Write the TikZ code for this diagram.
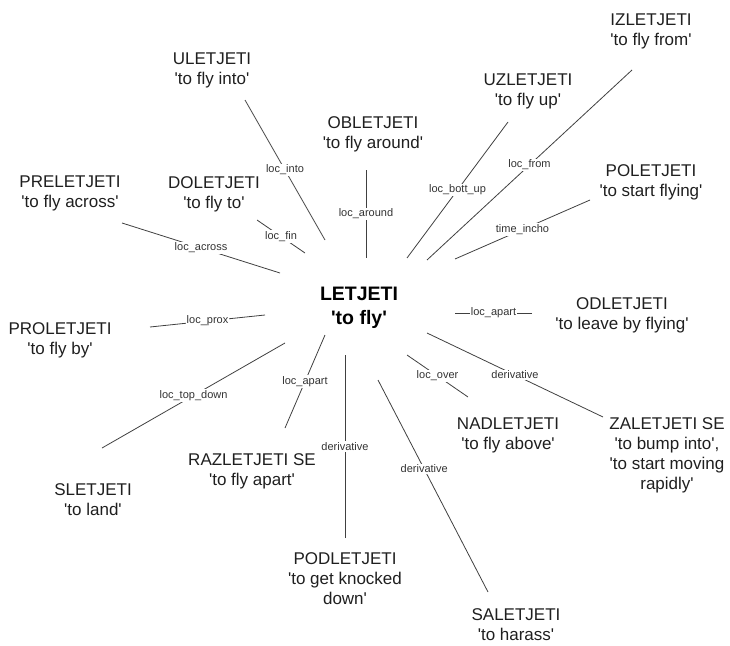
\documentclass[tikz,border=0pt]{standalone}
\usepackage{fontspec}
\setmainfont{Liberation Sans}[Ligatures=TeXOff]
\begin{document}
\begin{tikzpicture}[x=1pt,y=-1pt]
\tikzset{
  verb/.style={font=\fontsize{17}{20}\selectfont, align=center, inner sep=0pt, anchor=north, text=black!88},
  head/.style={font=\bfseries\fontsize{19.5}{24}\selectfont, align=center, inner sep=0pt, anchor=north},
  rel/.style={draw=black!75, line width=0.8pt},
  lab/.style={font=\fontsize{11}{12}\selectfont, fill=white, inner sep=1.2pt, text=black!80},
}
\useasboundingbox (0,0) rectangle (730,645);

% centre
\node[head] (letjeti) at (359,287) {LETJETI\\'to fly'};

% verbs
\node[verb] (izletjeti)   at (651,14)  {IZLETJETI\\'to fly from'};
\node[verb] (uletjeti)    at (212,53)  {ULETJETI\\'to fly into'};
\node[verb] (uzletjeti)   at (528,74)  {UZLETJETI\\'to fly up'};
\node[verb] (obletjeti)   at (373,116) {OBLETJETI\\'to fly around'};
\node[verb] (poletjeti)   at (651,164) {POLETJETI\\'to start flying'};
\node[verb] (preletjeti)  at (70,176)  {PRELETJETI\\'to fly across'};
\node[verb] (doletjeti)   at (214,176) {DOLETJETI\\'to fly to'};
\node[verb] (odletjeti)   at (622,297) {ODLETJETI\\'to leave by flying'};
\node[verb] (proletjeti)  at (60,322)  {PROLETJETI\\'to fly by'};
\node[verb] (nadletjeti)  at (508,418) {NADLETJETI\\'to fly above'};
\node[verb] (zaletjeti)   at (667,417) {ZALETJETI SE\\'to bump into',\\'to start moving\\rapidly'};
\node[verb] (razletjeti)  at (252,453) {RAZLETJETI SE\\'to fly apart'};
\node[verb] (sletjeti)    at (93,483)  {SLETJETI\\'to land'};
\node[verb] (podletjeti)  at (345,552) {PODLETJETI\\'to get knocked\\down'};
\node[verb] (saletjeti)   at (516,608) {SALETJETI\\'to harass'};

% connector end points
\coordinate (ul-a) at (245,100);  \coordinate (ul-b) at (325,240);
\coordinate (do-a) at (257,220);  \coordinate (do-b) at (305,253);
\coordinate (pr-a) at (122,223);  \coordinate (pr-b) at (280,273);
\coordinate (ob-a) at (366,170);  \coordinate (ob-b) at (366,258);
\coordinate (uz-a) at (508,122);  \coordinate (uz-b) at (407,258);
\coordinate (iz-a) at (632,70);   \coordinate (iz-b) at (427,260);
\coordinate (po-a) at (590,200);  \coordinate (po-b) at (455,259);
\coordinate (od-a) at (532,313);  \coordinate (od-b) at (455,313);
\coordinate (za-a) at (603,417);  \coordinate (za-b) at (427,333);
\coordinate (na-a) at (468,397);  \coordinate (na-b) at (407,355);
\coordinate (sa-a) at (488,592);  \coordinate (sa-b) at (378,380);
\coordinate (pd-a) at (345,538);  \coordinate (pd-b) at (345,355);
\coordinate (ra-a) at (285,428);  \coordinate (ra-b) at (325,335);
\coordinate (sl-a) at (102,448);  \coordinate (sl-b) at (285,343);
\coordinate (pp-a) at (150,327);  \coordinate (pp-b) at (265,315);

% connectors
\draw[rel] (ul-a) -- node[lab] {loc\_into} (ul-b);
\draw[rel] (do-a) -- node[lab] {loc\_fin} (do-b);
\draw[rel] (pr-a) -- node[lab] {loc\_across} (pr-b);
\draw[rel] (ob-a) -- node[lab] {loc\_around} (ob-b);
\draw[rel] (uz-a) -- node[lab] {loc\_bott\_up} (uz-b);
\draw[rel] (iz-a) -- node[lab] {loc\_from} (iz-b);
\draw[rel] (po-a) -- node[lab] {time\_incho} (po-b);
\draw[rel] (od-a) -- node[lab] {loc\_apart} (od-b);
\draw[rel] (za-a) -- node[lab] {derivative} (za-b);
\draw[rel] (na-a) -- node[lab] {loc\_over} (na-b);
\draw[rel] (sa-a) -- node[lab, pos=0.58] {derivative} (sa-b);
\draw[rel] (pd-a) -- node[lab] {derivative} (pd-b);
\draw[rel] (ra-a) -- node[lab] {loc\_apart} (ra-b);
\draw[rel] (sl-a) -- node[lab] {loc\_top\_down} (sl-b);
\draw[rel] (pp-a) -- node[lab] {loc\_prox} (pp-b);
\end{tikzpicture}
\end{document}
